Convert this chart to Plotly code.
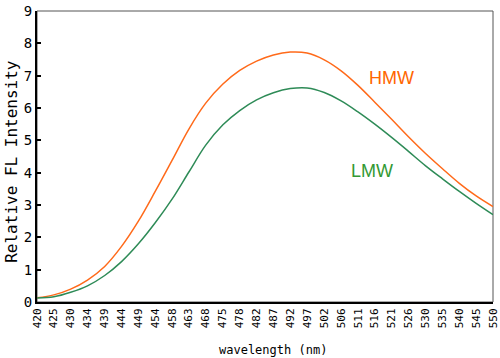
import plotly.graph_objects as go

# Wavelength (nm) at each labelled position
wavelength = [420.0, 424.8, 429.6, 434.4, 439.3, 444.1, 448.9, 453.7, 458.5, 463.3,
              468.1, 473.0, 477.8, 482.6, 487.4, 492.2, 497.0, 501.9, 506.7, 511.5,
              516.3, 521.1, 525.9, 530.7, 535.6, 540.4, 545.2, 550.0]
tick_labels = ["420", "425", "430", "434", "439", "444", "449", "454", "458", "463",
               "468", "475", "478", "482", "487", "492", "497", "502", "506", "511",
               "516", "521", "526", "530", "535", "540", "545", "550"]
hmw = [0.13, 0.22, 0.40, 0.68, 1.10, 1.72, 2.50, 3.42, 4.38, 5.35,
       6.15, 6.74, 7.16, 7.45, 7.64, 7.73, 7.70, 7.49, 7.15, 6.70,
       6.18, 5.65, 5.11, 4.60, 4.12, 3.67, 3.28, 2.95]
lmw = [0.12, 0.16, 0.30, 0.50, 0.82, 1.25, 1.80, 2.45, 3.18, 4.02,
       4.85, 5.48, 5.92, 6.25, 6.47, 6.60, 6.62, 6.48, 6.22, 5.88,
       5.50, 5.09, 4.66, 4.22, 3.81, 3.42, 3.05, 2.70]
y_ticks = [0, 1, 2, 3, 4, 5, 6, 7, 8, 9]

mono = "DejaVu Sans Mono"

fig = go.Figure()
fig.add_trace(go.Scatter(x=wavelength, y=hmw, mode="lines", name="HMW",
                         line=dict(color="#FF6A1A", width=1.5, shape="spline")))
fig.add_trace(go.Scatter(x=wavelength, y=lmw, mode="lines", name="LMW",
                         line=dict(color="#2E8B57", width=1.5, shape="spline")))

fig.update_layout(
    width=500, height=358,
    margin=dict(l=37, r=7, t=11, b=56),
    paper_bgcolor="white", plot_bgcolor="white",
    showlegend=False,
    xaxis=dict(range=[420, 550], tickvals=wavelength, ticktext=tick_labels,
               tickangle=-90, ticks="", showgrid=False, zeroline=False,
               showline=True, linecolor="black", linewidth=2, automargin=False,
               tickfont=dict(family=mono, size=11, color="black")),
    yaxis=dict(range=[0, 9], tickvals=y_ticks, ticks="inside", ticklen=4,
               tickwidth=1.5, tickcolor="black", showgrid=False, zeroline=False,
               showline=True, linecolor="black", linewidth=2, automargin=False,
               tickfont=dict(family=mono, size=14, color="black")),
    shapes=[dict(type="rect", xref="paper", yref="paper", x0=0, x1=1, y0=0, y1=1,
                 line=dict(color="#555555", width=1), layer="below")],
    annotations=[
        dict(text="HMW", x=420 + (392 - 37) / 3.508, y=6.94, xref="x", yref="y",
             showarrow=False,
             font=dict(family="Liberation Sans", size=18, color="#FF6600")),
        dict(text="LMW", x=420 + (372 - 37) / 3.508, y=4.06, xref="x", yref="y",
             showarrow=False,
             font=dict(family="Liberation Sans", size=18, color="#339933")),
        dict(text="wavelength (nm)", x=0.518, y=-0.165, xref="paper", yref="paper",
             xanchor="center", yanchor="middle", showarrow=False,
             font=dict(family=mono, size=12, color="black")),
        dict(text="Relative FL Intensity", x=-0.055, y=0.485, xref="paper", yref="paper",
             xanchor="center", yanchor="middle", textangle=-90, showarrow=False,
             font=dict(family=mono, size=16, color="black")),
    ],
)

fig.write_html("out.html", config={"displayModeBar": False},
               post_script="document.body.style.margin='0px';document.body.style.overflow='hidden';")
